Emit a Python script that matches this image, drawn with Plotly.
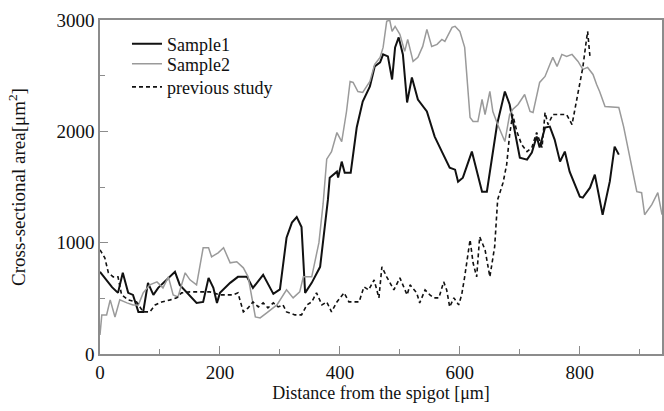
import plotly.graph_objects as go

# Sample 1 (black solid)
s1_x = [0, 8, 20, 30, 38, 47, 55, 64, 72, 80, 89, 97, 111, 125, 133, 145, 161, 172, 181, 189, 195, 200,
        217, 230, 245, 255, 272, 289, 300, 311, 320, 328, 336, 342, 353, 367, 380, 383, 395, 397, 403, 408,
        418, 428, 438, 450, 458, 467, 472, 480, 487, 492, 498, 505, 512, 520, 530, 545, 558, 570, 583,
        592, 597, 605, 620, 637, 645, 662, 675, 683, 692, 700, 712, 720, 728, 733, 742, 750, 758, 767,
        775, 783, 800, 805, 817, 825, 838, 850, 858, 865]
s1_y = [738, 680, 600, 549, 729, 549, 531, 378, 378, 639, 531, 594, 666, 738, 621, 549, 459, 468, 684, 594, 459, 549,
        639, 693, 693, 594, 711, 540, 580, 1044, 1180, 1230, 1140, 549, 639, 783, 1386, 1584, 1638, 1584, 1728, 1629,
        1629, 2034, 2268, 2403, 2583, 2619, 2691, 2673, 2466, 2754, 2844, 2691, 2259, 2484, 2286, 2178, 1953, 1818, 1674,
        1656, 1548, 1584, 1818, 1458, 1458, 2061, 2358, 2241, 1989, 1764, 1746, 1809, 1953, 1854, 2034, 2043, 1926, 1728,
        1818, 1638, 1413, 1404, 1494, 1611, 1251, 1550, 1863, 1791]

# Sample 2 (gray solid)
s2_x = [0, 3, 11, 17, 25, 33, 45, 55, 64, 72, 83, 95, 105, 114, 122, 130, 142, 150, 161, 172, 181, 186, 197, 206,
        217, 228, 239, 247, 259, 267, 278, 295, 311, 322, 333, 339, 353, 365, 372, 378, 386, 395, 403, 411, 417,
        422, 430, 438, 450, 458, 467, 472, 478, 483, 487, 492, 500, 508, 513, 522, 530, 538, 545, 553, 562, 570,
        575, 587, 592, 600, 608, 617, 622, 630, 637, 642, 650, 655, 663, 675, 683, 688, 697, 708, 717, 722, 733,
        742, 750, 755, 762, 770, 778, 787, 797, 805, 813, 822, 828, 833, 842, 865, 873, 883, 895, 903, 908, 920,
        930, 937]
s2_y = [171, 351, 351, 486, 333, 486, 459, 441, 441, 549, 621, 648, 594, 693, 531, 513, 729, 666, 621, 954, 954, 873,
        909, 954, 819, 828, 774, 693, 333, 324, 369, 441, 576, 504, 558, 693, 693, 1000, 1350, 1750, 1818, 1989, 1908,
        2178, 2448, 2439, 2358, 2349, 2448, 2601, 2664, 2754, 2988, 3000, 2898, 2943, 2871, 2718, 2826, 2628, 2664,
        2763, 2916, 2763, 2781, 2826, 2808, 2934, 2943, 2898, 2754, 2124, 2088, 2088, 2286, 2151, 2358, 2178, 2061,
        1908, 2151, 2196, 2241, 2331, 2178, 2169, 2439, 2493, 2601, 2664, 2583, 2691, 2673, 2691, 2628, 2556, 2574,
        2511, 2421, 2358, 2223, 2214, 2043, 1773, 1458, 1449, 1251, 1341, 1449, 1251]

# Previous study (black dashed)
p_x = [0, 8, 14, 22, 30, 36, 47, 61, 72, 83, 92, 103, 117, 128, 136, 150, 167, 183, 200, 222, 230, 239, 247, 255,
       264, 272, 280, 289, 297, 305, 311, 325, 336, 345, 353, 361, 370, 378, 386, 395, 407, 415, 432, 440, 448,
       457, 465, 470, 478, 490, 500, 512, 517, 528, 533, 542, 550, 557, 565, 573, 578, 583, 590, 598, 603, 608,
       617, 622, 628, 633, 642, 650, 658, 663, 672, 678, 683, 688, 695, 703, 712, 720, 728, 737, 742, 747, 755,
       767, 778, 787, 792, 800, 805, 810, 813, 817]
p_y = [936, 864, 729, 693, 693, 531, 486, 468, 378, 378, 441, 468, 486, 504, 549, 558, 558, 558, 531, 531, 549, 378,
       414, 468, 423, 459, 414, 459, 423, 441, 378, 351, 351, 441, 468, 549, 441, 468, 378, 468, 549, 468, 468, 603,
       576, 666, 504, 783, 693, 576, 684, 531, 621, 549, 459, 576, 531, 504, 504, 648, 576, 423, 504, 441, 531, 693,
       1026, 819, 693, 1053, 936, 693, 963, 1386, 1539, 1701, 1971, 2151, 1998, 1881, 1818, 1854, 1989, 1854, 2169,
       2061, 2151, 2151, 2151, 2061, 2214, 2448, 2574, 2781, 2898, 2664]

x_ticks = [0, 200, 400, 600, 800]
y_ticks = [0, 1000, 2000, 3000]

SERIF = "Liberation Serif, Times New Roman, serif"

fig = go.Figure()
fig.add_trace(go.Scatter(x=s1_x, y=s1_y, mode="lines", name="Sample1", legend="legend",
                         line=dict(color="#111111", width=2)))
fig.add_trace(go.Scatter(x=s2_x, y=s2_y, mode="lines", name="Sample2", legend="legend2",
                         line=dict(color="#9a9a9a", width=1.5)))
fig.add_trace(go.Scatter(x=p_x, y=p_y, mode="lines", name="previous study", legend="legend3",
                         line=dict(color="#111111", width=1.6, dash="4px,3px")))

axis_common = dict(showgrid=False, zeroline=False, showline=True, linecolor="#8c8c8c", linewidth=1.5,
                   mirror=True, ticks="inside", ticklen=8, tickwidth=1.2, tickcolor="#8c8c8c",
                   automargin=False,
                   tickfont=dict(family=SERIF, size=19, color="#111111"))

fig.update_xaxes(range=[0, 937], tickvals=x_ticks, ticktext=[str(v) for v in x_ticks],
                 minor=dict(dtick=100, ticks="inside", ticklen=5, tickcolor="#8c8c8c"),
                 title=dict(text="Distance from the spigot [μm]", standoff=1,
                            font=dict(family=SERIF, size=18, color="#111111")),
                 **axis_common)
fig.update_yaxes(range=[0, 3000], tickvals=y_ticks, ticktext=[str(v) for v in y_ticks],
                 minor=dict(dtick=500, ticks="inside", ticklen=5, tickcolor="#8c8c8c"),
                 title=dict(text="Cross-sectional area[μm<sup>2</sup>]", standoff=26,
                            font=dict(family=SERIF, size=19, color="#111111")),
                 **axis_common)

leg = dict(xanchor="left", yanchor="middle", bgcolor="rgba(0,0,0,0)",
           font=dict(family=SERIF, size=18, color="#111111"), itemwidth=30)
fig.update_layout(width=664, height=411, margin=dict(l=100, r=2, t=20, b=57),
                  font=dict(family=SERIF), showlegend=True,
                  plot_bgcolor="white", paper_bgcolor="white",
                  legend=dict(x=0.048, y=0.928, **leg),
                  legend2=dict(x=0.048, y=0.868, **leg),
                  legend3=dict(x=0.048, y=0.799, **leg))

fig.write_html("out.html", config={"displayModeBar": False},
               post_script="document.body.style.margin='0';document.body.style.overflow='hidden';")
